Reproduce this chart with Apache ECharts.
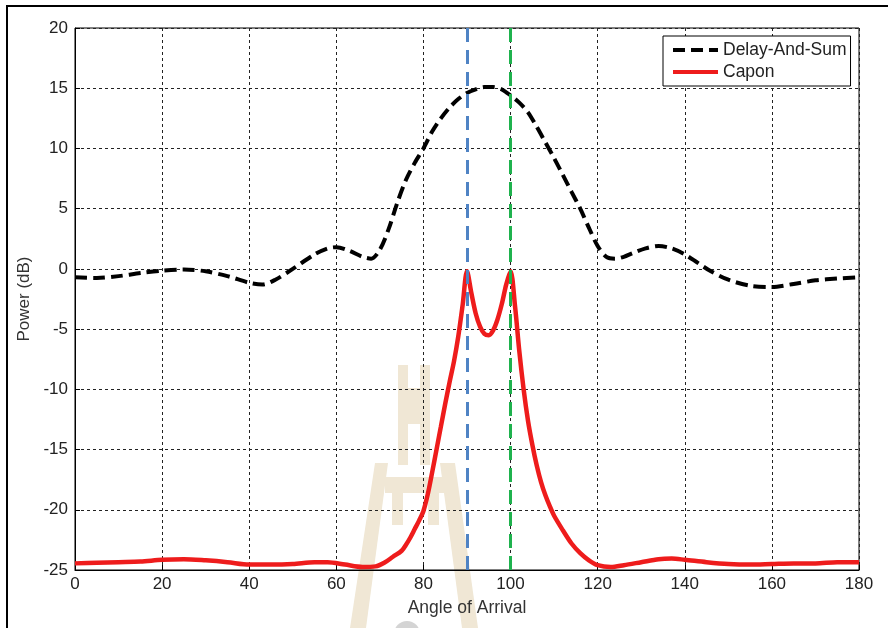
<!DOCTYPE html>
<html>
<head>
<meta charset="utf-8">
<script src="https://cdn.jsdelivr.net/npm/echarts@6/dist/echarts.min.js"></script>
<style>
html,body{margin:0;padding:0;background:#fff;}
#chart{width:888px;height:628px;}
</style>
</head>
<body>
<div id="chart"></div>
<script>
// ---- data ----
const dasAngles = [0,5,10,15,20,25,30,35,40,43,46,50,55,58,60,63,66,68,70,72,74,76,78,80,82,84,86,88,90,92,94,96,98,100,102,104,106,108,110,112,114,116,118,120,122,124,126,128,131,134,137,140,143,146,150,155,160,165,170,175,180];
const dasPower  = [-0.7,-0.75,-0.6,-0.35,-0.15,-0.05,-0.2,-0.6,-1.15,-1.3,-0.9,0.0,1.2,1.7,1.8,1.5,1.0,0.85,1.6,3.3,5.5,7.4,8.8,10.0,11.4,12.5,13.4,14.1,14.6,14.9,15.1,15.1,14.9,14.4,13.8,13.0,11.8,10.5,9.2,7.8,6.4,5.0,3.4,1.9,1.0,0.85,1.0,1.3,1.7,1.9,1.7,1.2,0.5,-0.2,-0.9,-1.4,-1.5,-1.25,-0.95,-0.8,-0.7];

const caponAngles = [0,5,10,15,20,25,30,35,40,45,50,55,58,62,66,69,71,73,75,76,77,78,79,80,81,82,83,84,85,86,87,88,89,90,91,92,93,94,95,96,97,98,99,100,101,102,103,104,105,106,107,108,109,110,112,114,116,118,120,123,126,130,134,137,140,145,150,155,160,165,170,175,180];
const caponPower  = [-24.45,-24.4,-24.35,-24.3,-24.15,-24.1,-24.2,-24.35,-24.55,-24.55,-24.5,-24.35,-24.35,-24.55,-24.75,-24.7,-24.4,-23.9,-23.4,-22.9,-22.3,-21.6,-20.9,-20.1,-18.7,-16.9,-15.0,-13.1,-11.2,-9.4,-7.7,-5.6,-3.0,-0.2,-2.0,-3.7,-4.8,-5.4,-5.5,-5.1,-4.2,-2.9,-1.3,-0.2,-3.0,-6.8,-10.0,-12.6,-14.6,-16.3,-17.7,-18.8,-19.7,-20.5,-21.7,-22.8,-23.6,-24.2,-24.6,-24.75,-24.6,-24.35,-24.1,-24.05,-24.15,-24.35,-24.5,-24.55,-24.5,-24.45,-24.45,-24.35,-24.35];

const doaAngles = [90, 100];
const seriesNames = ['Delay-And-Sum', 'Capon'];
const xTicks = {min: 0, max: 180, interval: 20};
const yTicks = {min: -25, max: 20, interval: 5};

const pairs = (xs, ys) => xs.map((x, i) => [x, ys[i]]);
const FONT = 'Liberation Sans, Arial, sans-serif';
const chart = echarts.init(document.getElementById('chart'));

const wm = '#f0e7d5';
chart.setOption({
  backgroundColor: '#fff',
  animation: false,
  graphic: [
    {type: 'rect', z: -10, shape: {x: 7, y: 6, width: 1000, height: 800}, style: {fill: 'none', stroke: '#000', lineWidth: 2}},
    {type: 'rect', z: -10, shape: {x: 398, y: 365, width: 10, height: 100}, style: {fill: wm}},
    {type: 'rect', z: -10, shape: {x: 420, y: 365, width: 10, height: 100}, style: {fill: wm}},
    {type: 'rect', z: -10, shape: {x: 398, y: 388, width: 32, height: 36}, style: {fill: wm}},
    {type: 'polygon', z: -10, shape: {points: [[375,463],[388,463],[366,628],[350,628]]}, style: {fill: wm}},
    {type: 'polygon', z: -10, shape: {points: [[440,463],[455,463],[478,628],[462,628]]}, style: {fill: wm}},
    {type: 'rect', z: -10, shape: {x: 385, y: 477, width: 62, height: 16}, style: {fill: wm}},
    {type: 'rect', z: -10, shape: {x: 392, y: 493, width: 11, height: 32}, style: {fill: wm}},
    {type: 'rect', z: -10, shape: {x: 428, y: 493, width: 11, height: 32}, style: {fill: wm}},
    {type: 'circle', z: -10, shape: {cx: 407, cy: 634, r: 13}, style: {fill: '#d4d4d4'}}
  ],
  grid: {left: 75, top: 28, width: 784, height: 542, show: true, borderColor: '#000', borderWidth: 1, backgroundColor: 'transparent'},
  legend: {
    data: seriesNames,
    orient: 'vertical',
    left: 663, top: 36,
    padding: [5, 4, 5, 8],
    itemGap: 4,
    itemWidth: 45, itemHeight: 16,
    backgroundColor: '#fff',
    borderColor: '#000', borderWidth: 1, borderRadius: 0,
    itemStyle: {opacity: 0},
    lineStyle: {width: 4},
    textStyle: {fontFamily: FONT, fontSize: 17.5, color: '#222'}
  },
  xAxis: {
    type: 'value', min: xTicks.min, max: xTicks.max, interval: xTicks.interval,
    name: 'Angle of Arrival', nameLocation: 'middle', nameGap: 29,
    nameTextStyle: {fontFamily: FONT, fontSize: 17.5, color: '#333'},
    axisLine: {onZero: false, lineStyle: {color: '#000', width: 1}},
    axisTick: {inside: true, length: 5, lineStyle: {color: '#000'}},
    axisLabel: {fontFamily: FONT, fontSize: 17, color: '#222', margin: 6},
    splitLine: {show: true, lineStyle: {color: '#222', type: [3, 3], width: 1}}
  },
  yAxis: {
    type: 'value', min: yTicks.min, max: yTicks.max, interval: yTicks.interval,
    name: 'Power (dB)', nameLocation: 'middle', nameGap: 36, nameRotate: 90,
    nameTextStyle: {fontFamily: FONT, fontSize: 17, color: '#333'},
    axisLine: {show: true, onZero: false, lineStyle: {color: '#000', width: 1}},
    axisTick: {show: true, inside: true, length: 5, lineStyle: {color: '#000'}},
    axisLabel: {fontFamily: FONT, fontSize: 17, color: '#222', margin: 7},
    splitLine: {show: true, lineStyle: {color: '#222', type: [3, 3], width: 1}}
  },
  series: [
    {
      name: seriesNames[0], type: 'line', data: pairs(dasAngles, dasPower),
      smooth: 0.3, showSymbol: false, symbol: 'none', z: 3,
      lineStyle: {color: '#000', width: 4, type: [12, 6]},
      itemStyle: {color: '#000'}
    },
    {
      name: seriesNames[1], type: 'line', data: pairs(caponAngles, caponPower),
      smooth: 0.3, showSymbol: false, symbol: 'none', z: 4,
      lineStyle: {color: '#ee1c1c', width: 4.5},
      itemStyle: {color: '#ee1c1c'}
    },
    {
      name: 'doa', type: 'line', data: [], z: 2,
      markLine: {
        silent: true, symbol: ['none', 'none'], label: {show: false},
        data: [
          {xAxis: doaAngles[0], lineStyle: {color: '#4f83c4', width: 3, type: [14, 8]}},
          {xAxis: doaAngles[1], lineStyle: {color: '#1fb24e', width: 3, type: [14, 8]}}
        ]
      }
    }
  ]
});
</script>
</body>
</html>
